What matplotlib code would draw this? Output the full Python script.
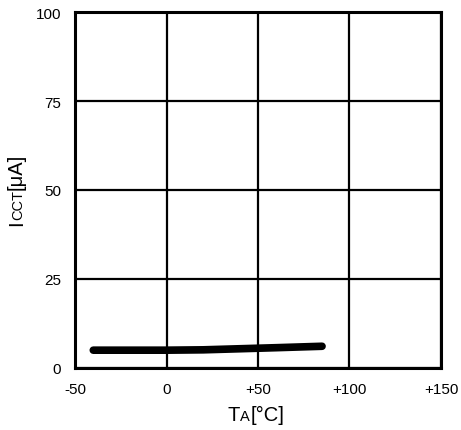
import matplotlib
matplotlib.use("Agg")
import matplotlib.pyplot as plt

plt.rcParams['font.family'] = ['Liberation Sans', 'DejaVu Sans']

# data
temp = [-40, -20, 0, 20, 40, 60, 85]
icct = [5.0, 5.0, 5.0, 5.1, 5.4, 5.7, 6.1]

xticks = [-50, 0, 50, 100, 150]
xticklabels = ['-50', '0', '+50', '+100', '+150']
yticks = [0, 25, 50, 75, 100]

fig = plt.figure(figsize=(4.61, 4.31), dpi=100)
ax = fig.add_axes([0.1627, 0.1439, 0.7939, 0.8259])

ax.plot(temp, icct, color='black', lw=5.5, solid_capstyle='round', zorder=3)

ax.set_xlim(-50, 150)
ax.set_ylim(0, 100)
ax.set_xticks(xticks)
ax.set_xticklabels(xticklabels)
ax.set_yticks(yticks)
ax.tick_params(length=0, labelsize=11, pad=10)
ax.grid(True, color='black', lw=1.6)
for s in ax.spines.values():
    s.set_linewidth(2.2)

# composite labels: big letter + small caps part + rest
fig.canvas.draw()
r = fig.canvas.get_renderer()

def label_parts(parts, x, y, rotation):
    # parts: list of (text, size); x,y in figure pixels of start point
    cx, cy = x, y
    for txt, size in parts:
        t = fig.text(cx / fig.bbox.width, cy / fig.bbox.height, txt, fontsize=size,
                     rotation=rotation, ha='left', va='baseline',
                     rotation_mode='anchor')
        bb = t.get_window_extent(r)
        if rotation == 0:
            cx += bb.width
        else:
            cy += bb.height

xparts = [('T', 14.5), ('A', 10.5), ('[°C]', 14.5)]
label_parts(xparts, 228, 10, 0)
yparts = [('I', 14.5), ('CCT', 10.5), ('[μA]', 14.5)]
label_parts(yparts, 22, 205, 90)

fig.savefig('out.png', dpi=100)
